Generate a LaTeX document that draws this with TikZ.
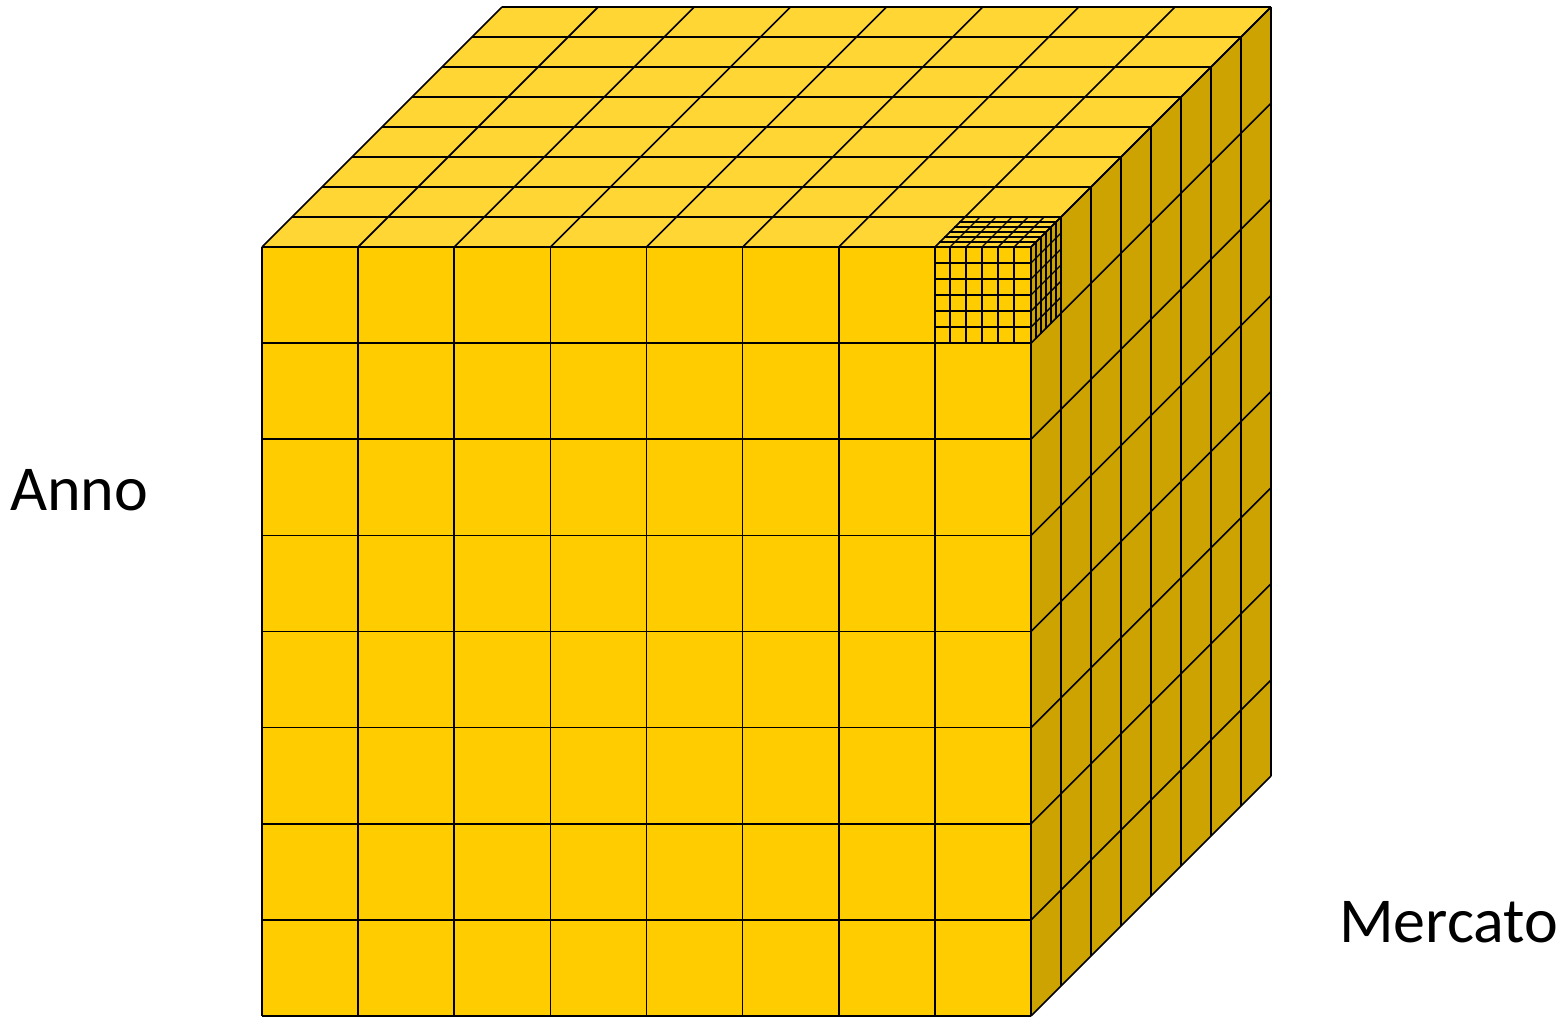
\documentclass[tikz,border=0pt]{standalone}
\usepackage{fontspec}
\setmainfont{Carlito}
\definecolor{frontc}{HTML}{FFCC00}
\definecolor{topc}{HTML}{FFD633}
\definecolor{sidec}{HTML}{CCA300}
\begin{document}
\begin{tikzpicture}[x=1pt,y=-1pt,
  grid/.style={draw=black,line width=1.6pt,line join=round},
  fine/.style={draw=black,line width=1.3pt},
  lbl/.style={font=\fontsize{64}{64}\selectfont,inner sep=0pt,anchor=base west}]
\useasboundingbox (0,0) rectangle (1567,1017);
\def\s{96.125}
\def\d{30}
% faces
\fill[frontc] (262,247) rectangle (1031,1016);
\fill[topc] (262,247) -- (502,7) -- (1271,7) -- (1031,247) -- cycle;
\fill[sidec] (1031,247) -- (1271,7) -- (1271,776) -- (1031,1016) -- cycle;
% front grid
\foreach \i in {0,...,8}{
  \draw[grid] ({262+\i*\s},247) -- ({262+\i*\s},1016);
  \draw[grid] (262,{247+\i*\s}) -- (1031,{247+\i*\s});
}
% top grid
\foreach \k in {0,...,8}{
  \draw[grid] ({262+\k*\d},{247-\k*\d}) -- ({1031+\k*\d},{247-\k*\d});
  \draw[grid] ({262+\k*\s},247) -- ({262+\k*\s+240},7);
}
% right grid
\foreach \k in {0,...,8}{
  \draw[grid] ({1031+\k*\d},{247-\k*\d}) -- ({1031+\k*\d},{1016-\k*\d});
  \draw[grid] (1031,{247+\k*\s}) -- (1271,{7+\k*\s});
}
% small cube in the front-top-right cell
\def\t{16.0208}
\def\e{5}
\foreach \i in {1,...,5}{
  % front
  \draw[fine] ({934+\i*\t},247) -- ({934+\i*\t},344);
  \draw[fine] (934,{247+\i*\t}) -- (1031,{247+\i*\t});
  % top
  \draw[fine] ({934+\i*\e},{247-\i*\e}) -- ({1031+\i*\e},{247-\i*\e});
  \draw[fine] ({934+\i*\t},247) -- ({934+\i*\t+30},217);
  % right
  \draw[fine] ({1031+\i*\e},{247-\i*\e}) -- ({1031+\i*\e},{344-\i*\e});
  \draw[fine] (1031,{247+\i*\t}) -- (1061,{217+\i*\t});
}
\node[lbl] (anno) at (10,510) {Anno};
\node[lbl] (mercato) at (1339,942) {Mercato};
\end{tikzpicture}
\end{document}
